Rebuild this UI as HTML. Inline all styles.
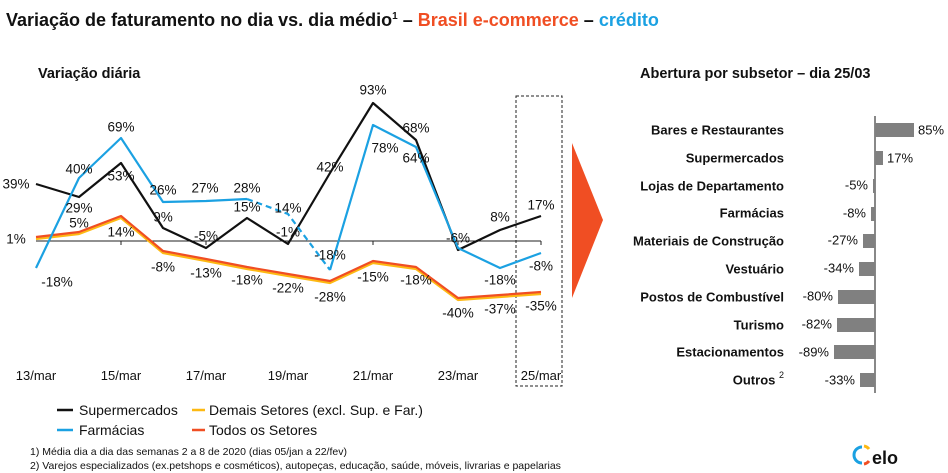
<!DOCTYPE html>
<html><head><meta charset="utf-8"><style>
body{margin:0;background:#fff}
svg{display:block;font-family:"Liberation Sans",Arial,sans-serif}
</style></head><body>
<svg width="948" height="473" viewBox="0 0 948 473" xmlns="http://www.w3.org/2000/svg">
<text x="6" y="26" font-size="18" font-weight="bold" fill="#111">Variação de faturamento no dia vs. dia médio<tspan font-size="10" dy="-7">1</tspan><tspan dy="7"> – </tspan><tspan fill="#F04E23">Brasil e-commerce</tspan> – <tspan fill="#1BA1E2">crédito</tspan></text>
<text x="38" y="78" font-size="14.5" font-weight="bold" fill="#111">Variação diária</text>
<text x="640" y="78" font-size="14.5" font-weight="bold" fill="#111">Abertura por subsetor – dia 25/03</text>

<rect x="516" y="96" width="46" height="290" fill="none" stroke="#222" stroke-dasharray="3,2"/>
<polygon points="572,143 603,220 572,298" fill="#F04E23"/>

<line x1="36" y1="241" x2="541" y2="241" stroke="#222" stroke-width="1"/>
<g stroke="#222"><line x1="121" y1="241" x2="121" y2="245"/><line x1="206" y1="241" x2="206" y2="245"/><line x1="288" y1="241" x2="288" y2="245"/><line x1="373" y1="241" x2="373" y2="245"/><line x1="458" y1="241" x2="458" y2="245"/><line x1="541" y1="241" x2="541" y2="245"/></g>

<g fill="none" stroke-width="2.2" stroke-linejoin="round">
<polyline stroke="#FDB913" points="36,239 79,234 121,218 163,253 206,261 247,269 288,276 330,283 373,263 416,269 458,300 500,297 541,294"/>
<polyline stroke="#F04E23" points="36,237 79,232 121,216 163,251 206,259 247,267 288,274 330,281 373,261 416,267 458,298 500,295 541,292"/>
<polyline stroke="#111" points="36,184 79,197 121,163 163,228 206,248 247,218 288,244 330,173 373,103 416,140 458,250 500,230 541,216"/>
<polyline stroke="#1BA1E2" points="36,268 79,178 121,138 163,202 206,201 247,199"/>
<polyline stroke="#1BA1E2" stroke-dasharray="6,4" points="247,199 288,214 330,270"/>
<polyline stroke="#1BA1E2" points="330,270 373,125 416,147 458,248 500,268 541,253"/>
</g>

<g font-size="13.5" fill="#111" text-anchor="middle" dominant-baseline="central">
<text x="16" y="184">39%</text><text x="79" y="169">40%</text><text x="79" y="208">29%</text><text x="79" y="223">5%</text>
<text x="16" y="239">1%</text><text x="57" y="282">-18%</text><text x="121" y="127">69%</text><text x="121" y="176">53%</text>
<text x="121" y="232">14%</text><text x="163" y="190">26%</text><text x="163" y="217">9%</text><text x="163" y="267">-8%</text>
<text x="205" y="188">27%</text><text x="206" y="236">-5%</text><text x="206" y="273">-13%</text><text x="247" y="188">28%</text>
<text x="247" y="207">15%</text><text x="247" y="280">-18%</text><text x="288" y="208">14%</text><text x="288" y="232">-1%</text>
<text x="288" y="288">-22%</text><text x="330" y="167">42%</text><text x="330" y="255">-18%</text><text x="330" y="297">-28%</text>
<text x="373" y="90">93%</text><text x="385" y="148">78%</text><text x="373" y="277">-15%</text><text x="416" y="128">68%</text>
<text x="416" y="158">64%</text><text x="416" y="280">-18%</text><text x="458" y="238">-6%</text><text x="458" y="313">-40%</text>
<text x="500" y="217">8%</text><text x="500" y="280">-18%</text><text x="500" y="309">-37%</text><text x="541" y="205">17%</text>
<text x="541" y="266">-8%</text><text x="541" y="306">-35%</text>
</g>

<g font-size="13" fill="#111" text-anchor="middle">
<text x="36" y="380">13/mar</text><text x="121" y="380">15/mar</text><text x="206" y="380">17/mar</text><text x="288" y="380">19/mar</text><text x="373" y="380">21/mar</text><text x="458" y="380">23/mar</text><text x="541" y="380">25/mar</text>
</g>

<g font-size="14" fill="#111">
<line x1="57" y1="410" x2="73" y2="410" stroke="#111" stroke-width="2.5"/><text x="79" y="415">Supermercados</text>
<line x1="192" y1="410" x2="205" y2="410" stroke="#FDB913" stroke-width="2.5"/><text x="209" y="415">Demais Setores (excl. Sup. e Far.)</text>
<line x1="57" y1="430" x2="73" y2="430" stroke="#1BA1E2" stroke-width="2.5"/><text x="79" y="435">Farmácias</text>
<line x1="192" y1="430" x2="205" y2="430" stroke="#F04E23" stroke-width="2.5"/><text x="209" y="435">Todos os Setores</text>
</g>
<g font-size="10.5" fill="#111">
<text x="30" y="455">1)  Média dia a dia das semanas 2 a 8 de 2020 (dias 05/jan a 22/fev)</text>
<text x="30" y="469">2)  Varejos especializados (ex.petshops e cosméticos), autopeças, educação, saúde, móveis, livrarias e papelarias</text>
</g>
<g>
<path d="M862,447 A8,8 0 0 0 862,463" fill="none" stroke="#1BA1E2" stroke-width="3"/>
<path d="M864,446 A8,8 0 0 1 869,449" fill="none" stroke="#FDB913" stroke-width="3"/>
<path d="M864,464 A8,8 0 0 0 869,461" fill="none" stroke="#F04E23" stroke-width="3"/>
<text x="872" y="464" font-size="18" font-weight="bold" fill="#111">elo</text>
</g>

<line x1="875" y1="116" x2="875" y2="393" stroke="#111" stroke-width="1"/>
<g fill="#808080">
<rect x="875" y="123" width="39" height="14"/><rect x="875" y="151" width="8" height="14"/>
<rect x="873" y="179" width="2" height="14"/><rect x="871" y="207" width="4" height="14"/>
<rect x="863" y="234" width="12" height="14"/><rect x="859" y="262" width="16" height="14"/>
<rect x="838" y="290" width="37" height="14"/><rect x="837" y="318" width="38" height="14"/>
<rect x="834" y="345" width="41" height="14"/><rect x="860" y="373" width="15" height="14"/>
</g>
<g font-size="13" fill="#111" dominant-baseline="central">
<text x="918" y="130">85%</text><text x="887" y="158">17%</text>
<g text-anchor="end"><text x="868" y="185">-5%</text><text x="866" y="213">-8%</text><text x="858" y="240">-27%</text><text x="854" y="268">-34%</text><text x="833" y="296">-80%</text><text x="832" y="324">-82%</text><text x="829" y="352">-89%</text><text x="855" y="380">-33%</text></g>
</g>
<g font-size="13" font-weight="bold" fill="#111" text-anchor="end" dominant-baseline="central">
<text x="784" y="130">Bares e Restaurantes</text><text x="784" y="158">Supermercados</text><text x="784" y="186">Lojas de Departamento</text><text x="784" y="213">Farmácias</text><text x="784" y="241">Materiais de Construção</text><text x="784" y="269">Vestuário</text><text x="784" y="297">Postos de Combustível</text><text x="784" y="325">Turismo</text><text x="784" y="352">Estacionamentos</text><text x="784" y="380">Outros <tspan font-size="9" font-weight="normal" dy="-5">2</tspan></text>
</g>
</svg>
</body></html>
